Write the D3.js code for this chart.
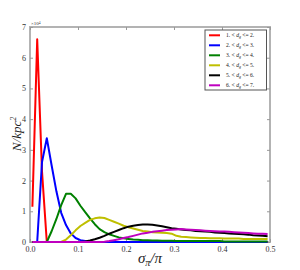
<!DOCTYPE html>
<html lang="en">
  <head>
    <meta charset="utf-8">
    <title>sigma_pi distribution</title>
    <style>
      body { margin: 0; background: #fff; }
      .tick text { font-family: "Liberation Serif", "DejaVu Serif", serif; font-size: 8px; fill: #333; }
      .tick line { stroke: #999; }
      .domain { display: none; }
      .curve { fill: none; stroke-width: 2; stroke-linejoin: round; }
      .lbl { font-family: "Liberation Serif", "DejaVu Serif", serif; font-style: italic; fill: #222; }
      .leg text { font-family: "Liberation Serif", "DejaVu Serif", serif; font-size: 5.6px; fill: #222; }
    </style>
  </head>
  <body>
    <svg width="300" height="270" id="svg"></svg>
    <script src="https://d3js.org/d3.v7.min.js"></script>
    <script>
    // bin centres of sigma_pi / pi
    var bins = [0.005, 0.015, 0.025, 0.035, 0.045, 0.055, 0.065, 0.075, 0.085, 0.095,
                0.105, 0.115, 0.125, 0.135, 0.145, 0.155, 0.165, 0.175, 0.185, 0.195,
                0.205, 0.215, 0.225, 0.235, 0.245, 0.255, 0.265, 0.275, 0.285, 0.295,
                0.305, 0.315, 0.325, 0.335, 0.345, 0.355, 0.365, 0.375, 0.385, 0.395,
                0.405, 0.415, 0.425, 0.435, 0.445, 0.455, 0.465, 0.475, 0.485, 0.495];

    // N/kpc^2 in units of 1e4
    var d12 = [1.15, 6.6, 2.3, 0, 0, 0, 0, 0, 0, 0,
               0, 0, 0, 0, 0, 0, 0, 0, 0, 0,
               0, 0, 0, 0, 0, 0, 0, 0, 0, 0,
               0, 0, 0, 0, 0, 0, 0, 0, 0, 0,
               0, 0, 0, 0, 0, 0, 0, 0, 0, 0];
    var d23 = [0, 0, 2.6, 3.38, 2.5, 1.65, 0.95, 0.55, 0.28, 0.13,
               0.06, 0.03, 0.01, 0, 0, 0, 0, 0, 0, 0,
               0, 0, 0, 0, 0, 0, 0, 0, 0, 0,
               0, 0, 0, 0, 0, 0, 0, 0, 0, 0,
               0, 0, 0, 0, 0, 0, 0, 0, 0, 0];
    var d34 = [0, 0, 0, 0, 0.35, 0.75, 1.2, 1.57, 1.57, 1.42,
               1.18, 0.97, 0.77, 0.58, 0.42, 0.32, 0.25, 0.2, 0.15, 0.12,
               0.1, 0.08, 0.07, 0.06, 0.06, 0.05, 0.05, 0.04, 0.04, 0.04,
               0.03, 0.03, 0.03, 0.03, 0.03, 0.03, 0.03, 0.03, 0.03, 0.03,
               0.02, 0.02, 0.02, 0.02, 0.02, 0.02, 0.02, 0.02, 0.02, 0.02];
    var d45 = [0, 0, 0, 0, 0, 0, 0, 0.08, 0.22, 0.38,
               0.52, 0.62, 0.72, 0.77, 0.8, 0.78, 0.72, 0.66, 0.6, 0.53,
               0.48, 0.44, 0.4, 0.36, 0.34, 0.32, 0.31, 0.3, 0.29, 0.27,
               0.2, 0.17, 0.16, 0.15, 0.14, 0.13, 0.13, 0.12, 0.12, 0.12,
               0.11, 0.11, 0.11, 0.11, 0.1, 0.1, 0.1, 0.1, 0.1, 0.1];
    var d56 = [0, 0, 0, 0, 0, 0, 0, 0, 0, 0,
               0, 0.02, 0.05, 0.09, 0.14, 0.2, 0.27, 0.33, 0.39, 0.45,
               0.5, 0.53, 0.55, 0.57, 0.57, 0.56, 0.54, 0.51, 0.48, 0.45,
               0.43, 0.41, 0.39, 0.38, 0.36, 0.35, 0.34, 0.33, 0.31, 0.3,
               0.29, 0.28, 0.27, 0.26, 0.25, 0.24, 0.22, 0.21, 0.2, 0.19];
    var d67 = [0, 0, 0, 0, 0, 0, 0, 0, 0, 0,
               0, 0, 0, 0, 0, 0.01, 0.03, 0.06, 0.09, 0.13,
               0.16, 0.2, 0.24, 0.28, 0.3, 0.33, 0.35, 0.37, 0.39, 0.4,
               0.41, 0.42, 0.41, 0.4, 0.39, 0.38, 0.37, 0.36, 0.35, 0.34,
               0.34, 0.33, 0.32, 0.31, 0.3, 0.29, 0.28, 0.27, 0.27, 0.26];

    var seriesValues = [d12, d23, d34, d45, d56, d67];
    var seriesLo = ["1.", "2.", "3.", "4.", "5.", "6."];
    var seriesHi = ["2.", "3.", "4.", "5.", "6.", "7."];
    var colors = ["#ff0000", "#0000ff", "#008000", "#bfbf00", "#000000", "#bf00bf"];

    var xTicks = [0, 0.1, 0.2, 0.3, 0.4, 0.5];
    var yTicks = [0, 1, 2, 3, 4, 5, 6, 7];

    var svg = d3.select("svg"),
        margin = {top: 27, right: 30, bottom: 28, left: 30},
        width = +svg.attr("width") - margin.left - margin.right,
        height = +svg.attr("height") - margin.top - margin.bottom;

    var x = d3.scaleLinear().domain([0, 0.5]).range([0, width]),
        y = d3.scaleLinear().domain([0, 7]).range([height, 0]);

    var g = svg.append("g")
        .attr("transform", "translate(" + margin.left + "," + margin.top + ")");

    // frame
    g.append("rect")
        .attr("width", width)
        .attr("height", height)
        .attr("fill", "none")
        .attr("stroke", "#b3b3b3")
        .attr("stroke-width", 2);

    g.append("g")
        .attr("transform", "translate(0," + height + ")")
        .call(d3.axisBottom(x).tickValues(xTicks).tickFormat(d3.format(".1f"))
          .tickSizeInner(-3).tickSizeOuter(0).tickPadding(4));
    g.append("g")
        .call(d3.axisTop(x).tickValues(xTicks).tickFormat("").tickSizeInner(-3).tickSizeOuter(0));
    g.append("g")
        .call(d3.axisLeft(y).tickValues(yTicks).tickFormat(d3.format("d"))
          .tickSizeInner(-3).tickSizeOuter(0).tickPadding(4));
    g.append("g")
        .attr("transform", "translate(" + width + ",0)")
        .call(d3.axisRight(y).tickValues(yTicks).tickFormat("").tickSizeInner(-3).tickSizeOuter(0));

    // offset text
    var off = g.append("text")
        .attr("x", 1)
        .attr("y", -2)
        .attr("font-family", "Liberation Serif, serif")
        .attr("font-size", "5px")
        .attr("fill", "#333")
        .text("\u00d710");
    off.append("tspan").attr("dy", "-1.5").attr("font-size", "3.5px").text("4");

    var line = d3.line()
        .x(function(d, i) { return x(bins[i]); })
        .y(function(d) { return y(d); });

    g.selectAll(".curve")
      .data(seriesValues)
      .enter().append("path")
        .attr("class", "curve")
        .attr("stroke", function(d, i) { return colors[i]; })
        .attr("d", line);

    // legend
    var leg = g.append("g").attr("class", "leg").attr("transform", "translate(175,3)");
    leg.append("rect")
        .attr("width", 61.5)
        .attr("height", 60)
        .attr("fill", "#fff")
        .attr("stroke", "#555")
        .attr("stroke-width", 1);
    var rows = leg.selectAll(".row")
      .data(seriesValues)
      .enter().append("g")
        .attr("class", "row")
        .attr("transform", function(d, i) { return "translate(0," + (5.3 + i * 10) + ")"; });
    rows.append("line")
        .attr("x1", 4).attr("x2", 15)
        .attr("stroke", function(d, i) { return colors[i]; })
        .attr("stroke-width", 2);
    var lt = rows.append("text")
        .attr("x", 21)
        .attr("dy", "0.35em");
    lt.append("tspan").text(function(d, i) { return seriesLo[i] + " < "; });
    lt.append("tspan").attr("font-style", "italic").text("d");
    lt.append("tspan").attr("font-size", "4px").attr("font-style", "italic").attr("dy", "1.2").text("g");
    lt.append("tspan").attr("dy", "-1.2").text(function(d, i) { return " <= " + seriesHi[i]; });

    // axis labels
    var xl = svg.append("text")
        .attr("class", "lbl")
        .attr("x", 150)
        .attr("y", 263)
        .attr("text-anchor", "middle")
        .attr("font-size", "15px");
    xl.append("tspan").text("\u03c3");
    xl.append("tspan").attr("font-size", "10px").attr("dy", "3").text("\u03c0");
    xl.append("tspan").attr("dy", "-3").text("/\u03c0");

    var yl = svg.append("text")
        .attr("class", "lbl")
        .attr("transform", "translate(21,134) rotate(-90)")
        .attr("text-anchor", "middle")
        .attr("font-size", "13px");
    yl.append("tspan").text("N/kpc");
    yl.append("tspan").attr("font-size", "8px").attr("dy", "-5").text("2");
    </script>
  </body>
</html>
